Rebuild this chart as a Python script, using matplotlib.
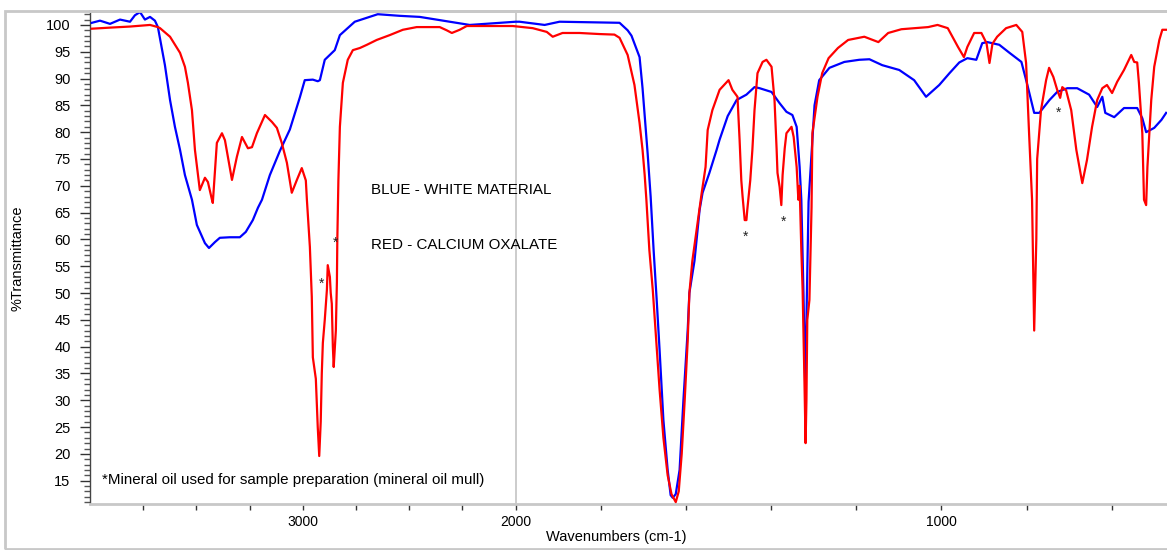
import numpy as np
import matplotlib
matplotlib.use("Agg")
import matplotlib.pyplot as plt
from matplotlib.patches import Rectangle
from matplotlib.ticker import FixedLocator, MultipleLocator, NullFormatter

plt.rcParams['font.family'] = ['Liberation Sans', 'DejaVu Sans']

# Blue - white material (wavenumber cm-1, %T)
blue_wn = [3991, 3953, 3906, 3859, 3812, 3789, 3765, 3742, 3718, 3695, 3681, 3648, 3624,
           3601, 3577, 3554, 3521, 3498, 3460, 3441, 3413, 3390, 3343, 3296, 3268, 3235,
           3211, 3192, 3155, 3108, 3061, 3014, 2991, 2953, 2930, 2920, 2897, 2850, 2826,
           2756, 2648, 2545, 2451, 2310, 2216, 2075, 2000, 1991, 1932, 1897, 1826, 1756,
           1737, 1728, 1709, 1702, 1690, 1683, 1676, 1669, 1662, 1653, 1643, 1636, 1631,
           1624, 1615, 1606, 1596, 1592, 1580, 1568, 1561, 1545, 1528, 1521, 1502, 1481,
           1458, 1439, 1427, 1399, 1380, 1364, 1350, 1340, 1333, 1329, 1324, 1320, 1317,
           1312, 1298, 1287, 1263, 1228, 1193, 1169, 1139, 1099, 1064, 1036, 1005, 981,
           958, 939, 918, 904, 892, 864, 840, 812, 798, 782, 770, 746, 728, 704, 681, 653,
           634, 622, 615, 594, 571, 540, 528, 519, 500, 483, 472]
blue_t = [100.4, 100.8, 100.2, 101.0, 100.6, 101.8, 102.4, 101.0, 101.5, 100.8, 99.6, 92.5, 86.0,
          81.0, 76.7, 72.0, 67.4, 62.7, 59.3, 58.4, 59.5, 60.3, 60.4, 60.4, 61.4, 63.6,
          65.9, 67.4, 72.0, 76.5, 80.5, 86.5, 89.7, 89.8, 89.5, 89.7, 93.5, 95.3, 98.1,
          100.6, 102.0, 101.7, 101.5, 100.6, 100.0, 100.4, 100.6, 100.6, 100.0, 100.6, 100.5, 100.4,
          99.0, 98.0, 94.0, 88.2, 76.0, 68.0, 58.0, 49.0, 39.4, 26.3, 17.0, 12.3, 11.8,
          12.5, 17.0, 30.0, 43.0, 50.0, 56.0, 65.5, 68.7, 72.4, 76.7, 78.6, 83.0, 86.0,
          87.0, 88.4, 88.2, 87.5, 85.4, 83.8, 83.2, 81.0, 73.5, 67.4, 50.0, 33.0, 45.0,
          67.0, 85.0, 89.7, 92.0, 93.1, 93.5, 93.6, 92.5, 91.6, 89.7, 86.6, 88.8, 91.0,
          93.0, 93.8, 93.5, 96.6, 96.8, 96.3, 94.8, 93.1, 88.8, 83.6, 83.6, 86.0, 87.5, 88.2, 88.2, 87.0,
          84.7, 86.6, 83.6, 82.8, 84.5, 84.5, 82.6, 80.0, 80.8, 82.3, 83.6]

# Red - calcium oxalate (wavenumber cm-1, %T)
red_wn = [3991, 3906, 3812, 3718, 3681, 3671, 3624, 3577, 3554, 3540, 3521, 3507, 3484,
          3460, 3446, 3427, 3423, 3404, 3380, 3366, 3333, 3310, 3286, 3258, 3239, 3216,
          3178, 3145, 3122, 3099, 3075, 3052, 3028, 3005, 2986, 2981, 2967, 2958, 2953,
          2939, 2930, 2923, 2916, 2911, 2906, 2897, 2887, 2883, 2873, 2869, 2864, 2859,
          2855, 2845, 2840, 2838, 2833, 2826, 2812, 2789, 2765, 2732, 2699, 2653, 2592,
          2530, 2465, 2357, 2324, 2300, 2263, 2230, 2108, 2014, 1960, 1927, 1913, 1890,
          1850, 1803, 1768, 1756, 1737, 1721, 1709, 1702, 1697, 1693, 1686, 1678, 1669,
          1662, 1653, 1643, 1634, 1624, 1617, 1610, 1603, 1596, 1592, 1585, 1573, 1563,
          1554, 1549, 1538, 1521, 1500, 1491, 1479, 1474, 1470, 1467, 1462, 1458, 1456,
          1449, 1444, 1439, 1432, 1420, 1411, 1399, 1392, 1387, 1385, 1380, 1376, 1373,
          1368, 1364, 1352, 1347, 1340, 1336, 1333, 1329, 1326, 1322, 1319, 1317, 1315,
          1310, 1305, 1303, 1291, 1280, 1265, 1243, 1219, 1193, 1181, 1148, 1125, 1094,
          1031, 1009, 985, 961, 947, 939, 923, 906, 894, 887, 880, 869, 848, 824, 810,
          801, 794, 787, 782, 777, 775, 766, 754, 747, 737, 728, 721, 716, 707, 695, 683,
          669, 658, 646, 634, 622, 611, 599, 587, 571, 554, 547, 540, 536, 528, 524, 519,
          516, 507, 500, 488, 481, 472]
red_t = [99.3, 99.5, 99.7, 100.0, 99.6, 99.4, 97.8, 94.8, 92.2, 89.2, 84.1, 76.7, 69.2,
         71.5, 70.7, 67.4, 66.8, 78.0, 79.8, 78.5, 71.1, 75.4, 79.1, 77.0, 77.2, 79.8,
         83.2, 81.9, 80.8, 78.0, 74.3, 68.7, 71.1, 73.3, 71.0, 67.4, 58.6, 49.3, 38.0,
         34.0, 25.0, 19.6, 26.0, 35.0, 40.7, 45.0, 50.6, 55.2, 53.0, 50.0, 48.0, 40.0,
         36.2, 43.0, 52.0, 60.0, 71.0, 81.0, 89.2, 93.5, 95.3, 95.7, 96.3, 97.2, 98.1,
         99.1, 99.6, 99.6, 99.0, 98.5, 99.1, 99.8, 99.8, 99.8, 99.4, 98.7, 97.8, 98.5,
         98.5, 98.3, 98.2, 97.6, 94.4, 88.8, 81.7, 76.7, 72.0, 67.4, 58.0, 50.6, 40.0,
         32.0, 23.0, 16.0, 12.5, 11.0, 13.0, 20.0, 30.0, 41.0, 50.0, 56.0, 63.0, 68.7,
         73.5, 80.4, 84.1, 87.9, 89.7, 87.9, 86.6, 78.5, 71.0, 68.0, 63.6, 63.6, 65.5,
         71.0, 76.7, 84.1, 91.0, 93.1, 93.5, 92.2, 86.0, 76.7, 72.4, 69.8, 66.4, 72.0,
         77.0, 79.8, 81.0, 79.1, 73.5, 67.4, 70.0, 58.0, 50.6, 35.0, 22.0, 30.0, 45.0,
         48.7, 66.0, 79.8, 86.6, 91.0, 93.8, 95.7, 97.2, 97.6, 97.8, 96.8, 98.5, 99.2,
         99.6, 100.0, 99.4, 95.9, 94.0, 95.9, 98.5, 98.5, 96.6, 92.9, 96.5, 97.8, 99.4, 100.0, 98.7,
         92.9, 79.8, 67.4, 43.0, 60.0, 75.0, 84.1, 89.7, 92.0, 90.3, 87.9, 86.4, 88.4, 87.8, 84.1, 76.7,
         70.5, 74.8, 81.0, 86.0, 88.2, 88.8, 87.3, 89.4, 91.6, 94.4, 93.1, 93.0, 89.2, 79.8, 67.4, 66.4,
         73.5, 86.0, 92.2, 97.2, 99.1, 99.1]

# annotation marks for mineral-oil bands
star_wn = [2914, 2848, 1459, 1371, 726]
star_t = [51.8, 59.3, 60.5, 63.2, 83.6]


def fwd(x):
    x = np.asarray(x, dtype=float)
    return np.where(x >= 2000, x, 2 * x - 2000)


def inv(y):
    y = np.asarray(y, dtype=float)
    return np.where(y >= 2000, y, (y + 2000) / 2)


fig = plt.figure(figsize=(11.67, 5.5), dpi=100)
ax = fig.add_axes([90 / 1167, 46 / 550, 1 - 90 / 1167, (504 - 11) / 550])

ax.set_xscale('function', functions=(fwd, inv))
ax.set_xlim(4000, 470)
ax.set_ylim(10.65, 102.6)

ax.axvline(2000, color='#c8c8c8', lw=1.3, zorder=1)
ax.plot(blue_wn, blue_t, color='#0000ff', lw=1.6, zorder=3)
ax.plot(red_wn, red_t, color='#ff0000', lw=1.6, zorder=4)

for w, t in zip(star_wn, star_t):
    ax.text(w, t, '*', fontsize=10, ha='center', va='center', color='#222222', zorder=5)

ax.text(2682, 69.2, 'BLUE - WHITE MATERIAL', fontsize=10.9, va='center')
ax.text(2682, 59.0, 'RED - CALCIUM OXALATE', fontsize=10.9, va='center')
ax.text(3945, 15.1, '*Mineral oil used for sample preparation (mineral oil mull)',
        fontsize=10.9, va='center')

# axes styling
ax.xaxis.set_major_locator(FixedLocator([3000, 2000, 1000]))
ax.xaxis.set_minor_locator(FixedLocator([3750, 3500, 3250, 2750, 2500, 2250,
                                         1800, 1600, 1400, 1200, 800, 600]))
ax.xaxis.set_minor_formatter(NullFormatter())
ax.set_xticklabels(['3000', '2000', '1000'])
ax.yaxis.set_major_locator(MultipleLocator(5))
ax.yaxis.set_minor_locator(MultipleLocator(1))
ax.set_yticks(np.arange(15, 101, 5))

ax.tick_params(axis='x', which='both', length=4, width=1, color='#333333',
               direction='out', labelsize=10, pad=4)
ax.tick_params(axis='y', which='major', length=7, width=1, color='#333333',
               direction='out', labelsize=10.5, pad=7)
ax.tick_params(axis='y', which='minor', length=4, width=1, color='#555555', direction='out')

for s in ['top', 'bottom']:
    ax.spines[s].set_color('#c8c8c8')
    ax.spines[s].set_linewidth(2)
ax.spines['left'].set_color('#444444')
ax.spines['left'].set_linewidth(1)
ax.spines['right'].set_visible(False)

fig.text(616 / 1167, 1 - 537 / 550, 'Wavenumbers (cm-1)', fontsize=10.5,
         ha='center', va='center')
fig.text(18 / 1167, 1 - 258 / 550, '%Transmittance', fontsize=10.5,
         ha='center', va='center', rotation=90)

# outer frame
fig.patches.append(Rectangle((5 / 1167, 1.5 / 550), 1.2, (538) / 550,
                             transform=fig.transFigure, fill=False,
                             edgecolor='#c8c8c8', lw=2))

fig.savefig('out.png', dpi=100)
